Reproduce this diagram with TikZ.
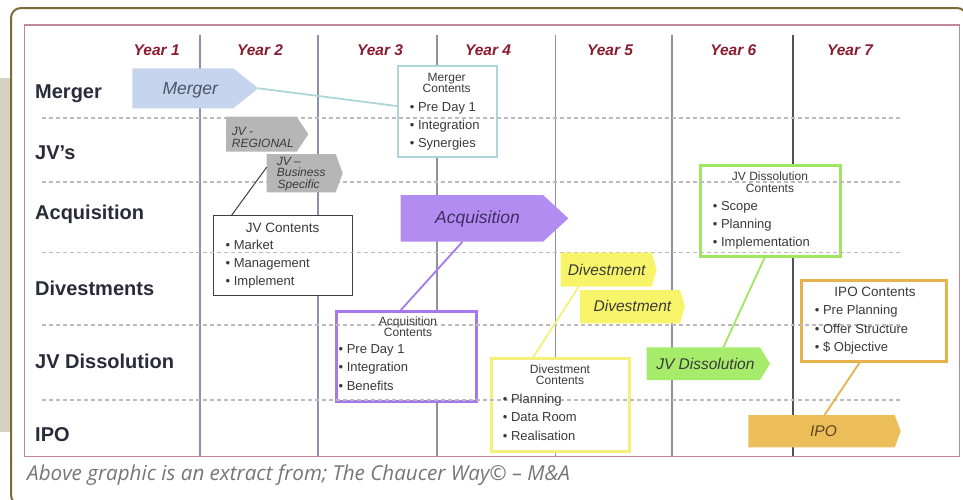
\documentclass[tikz,border=0pt]{standalone}
\usepackage{fontspec}
\setmainfont{Liberation Sans}
\newfontfamily\capfont{Open Sans}

\definecolor{framebrown}{HTML}{7B6A3C}
\definecolor{beige}{HTML}{D8D0C0}
\definecolor{framepink}{HTML}{C08898}
\definecolor{gridblue}{HTML}{8C90A8}
\definecolor{griddark}{HTML}{505060}
\definecolor{dashgray}{HTML}{BBBBBB}
\definecolor{yearred}{HTML}{8A1C30}
\definecolor{rowink}{HTML}{2A2A3A}
\definecolor{textgray}{HTML}{3A3A3A}
\definecolor{capgray}{HTML}{767676}
\definecolor{mergerfill}{HTML}{C5D5EE}
\definecolor{mergerink}{HTML}{4D5566}
\definecolor{mergeredge}{HTML}{AED6DA}
\definecolor{jvfill}{HTML}{B6B6B6}
\definecolor{jvedge}{HTML}{404040}
\definecolor{acqfill}{HTML}{B38CF2}
\definecolor{acqink}{HTML}{3E2E5E}
\definecolor{acqedge}{HTML}{A678EC}
\definecolor{divfill}{HTML}{F8F46A}
\definecolor{divedge}{HTML}{F4F07A}
\definecolor{jvdfill}{HTML}{A6EC6A}
\definecolor{jvdedge}{HTML}{A0E662}
\definecolor{ipofill}{HTML}{ECBE5A}
\definecolor{ipoink}{HTML}{5A4520}
\definecolor{ipoedge}{HTML}{E6B24E}

% pentagon "tag" drawn inside the bounding rectangle of a named node
\newcommand\tagshape[3]{\fill[#1] (#2.north west) -- ([xshift=-#3pt]#2.north east) -- (#2.east) -- ([xshift=-#3pt]#2.south east) -- (#2.south west) -- cycle;}

\begin{document}
\begin{tikzpicture}[x=1pt,y=-1pt,
  rowlab/.style={anchor=base west, inner sep=0, font=\fontsize{20}{22}\selectfont\bfseries, text=rowink},
  yearlab/.style={anchor=base, inner sep=0, font=\fontsize{15.5}{17}\selectfont\bfseries\itshape, text=yearred},
  gridline/.style={draw=gridblue, line width=1.4},
  rowsep/.style={draw=dashgray, line width=1.5, dash pattern=on 4pt off 3pt},
  tagbox/.style={anchor=north west, inner sep=0, outer sep=0},
  cbox/.style={anchor=north west, inner sep=0, outer sep=0, fill=white},
  tagtext/.style={anchor=base, inner sep=0, font=\fontsize{17.5}{19}\selectfont\itshape},
  tagsmall/.style={anchor=base, inner sep=0, font=\fontsize{15.5}{17}\selectfont\itshape},
  jvtext/.style={anchor=base west, inner sep=0, font=\fontsize{12}{13}\selectfont\itshape, text=textgray},
  ctitle/.style={anchor=base, inner sep=0, font=\fontsize{12}{13}\selectfont, text=textgray},
  ctitlebig/.style={anchor=base, inner sep=0, font=\fontsize{13.5}{15}\selectfont, text=textgray},
  item/.style={anchor=base west, inner sep=0, font=\fontsize{13}{15}\selectfont, text=textgray},
  link/.style={line width=1.8}
]
\useasboundingbox (0,0) rectangle (963,499);

% page furniture
\fill[beige] (0,78) rectangle (12,432);
\draw[framebrown, line width=2, fill=white, rounded corners=10pt] (11,8) rectangle (967,505);
\draw[framepink, line width=1.5] (24.5,25) rectangle (959.5,456.5);

% year columns
\foreach \gx in {200,318,437,555.5,672} \draw[gridline] (\gx,35) -- (\gx,456);
\draw[draw=griddark, line width=1.1] (793,35) -- (793,456);

\node[yearlab] (y1) at (156.7,55.5) {Year 1};
\node[yearlab] (y2) at (260,55.5) {Year 2};
\node[yearlab] (y3) at (380,55.5) {Year 3};
\node[yearlab] (y4) at (488,55.5) {Year 4};
\node[yearlab] (y5) at (610,55.5) {Year 5};
\node[yearlab] (y6) at (733.3,55.5) {Year 6};
\node[yearlab] (y7) at (850,55.5) {Year 7};

% row labels
\node[rowlab] (rmerger) at (35,98) {Merger};
\node[rowlab] (rjv) at (35,159) {JV's};
\node[rowlab] (racq) at (35,219) {Acquisition};
\node[rowlab] (rdiv) at (35,295) {Divestments};
\node[rowlab] (rjvd) at (35,368) {JV Dissolution};
\node[rowlab] (ripo) at (35,441.5) {IPO};

% content boxes
\node[cbox, draw=mergeredge, line width=2, minimum width=99pt, minimum height=91pt] (mbox) at (398.3,65.7) {};
\node[cbox, draw=jvedge, line width=1.5, minimum width=139pt, minimum height=80pt] (jvbox) at (213.3,215.7) {};
\node[cbox, draw=acqedge, line width=3, minimum width=140pt, minimum height=90.7pt] (acqbox) at (336,311) {};
\node[cbox, draw=divedge, line width=3, minimum width=137.6pt, minimum height=92.7pt] (divbox) at (491.7,358.3) {};
\node[cbox, draw=jvdedge, line width=3, minimum width=140.7pt, minimum height=90.3pt] (jvdbox) at (700,165.7) {};
\node[cbox, draw=ipoedge, line width=3, minimum width=145pt, minimum height=81pt] (ipobox) at (801.7,280.7) {};

% row separators
\foreach \gy in {118,182,252.5,325,400} \draw[rowsep] (42,\gy) -- (900,\gy);

% tags
\node[tagbox, minimum width=126pt, minimum height=40pt] (mtag) at (132.3,68.3) {};
\node[tagbox, minimum width=82.3pt, minimum height=35pt] (jvreg) at (226,116.7) {};
\node[tagbox, minimum width=76pt, minimum height=38.3pt] (jvbs) at (266.7,154) {};
\node[tagbox, minimum width=167.6pt, minimum height=46.7pt] (acqtag) at (400.7,195) {};
\node[tagbox, minimum width=96pt, minimum height=34pt] (div1) at (560.7,252.7) {};
\node[tagbox, minimum width=105pt, minimum height=33.3pt] (div2) at (580,290) {};
\node[tagbox, minimum width=123.3pt, minimum height=32.7pt] (jvdtag) at (646.7,347.3) {};
\node[tagbox, minimum width=152.4pt, minimum height=32.3pt] (ipotag) at (748.3,415) {};

\tagshape{mergerfill}{mtag}{25}
\tagshape{jvfill}{jvreg}{11.6}
\tagshape{jvfill}{jvbs}{7}
\tagshape{acqfill}{acqtag}{25.3}
\tagshape{divfill}{div1}{5}
\tagshape{divfill}{div2}{5}
\tagshape{jvdfill}{jvdtag}{10}
\tagshape{ipofill}{ipotag}{6}

\node[tagtext, text=mergerink] (mtagt) at ([xshift=-5pt,yshift=-6pt]mtag.center) {Merger};
\node[tagtext, text=acqink] (acqtagt) at ([xshift=-7pt,yshift=-5.5pt]acqtag.center) {Acquisition};
\node[tagsmall, text=textgray] (div1t) at ([xshift=-2pt,yshift=-5.3pt]div1.center) {Divestment};
\node[tagsmall, text=textgray] (div2t) at ([yshift=-5pt]div2.center) {Divestment};
\node[tagsmall, text=textgray] (jvdtagt) at ([xshift=-3pt,yshift=-5.5pt]jvdtag.center) {JV Dissolution};
\node[tagsmall, text=ipoink] (ipotagt) at ([xshift=-1pt,yshift=-5.5pt]ipotag.center) {IPO};

\node[jvtext] (jvreg1) at (231.7,135.3) {JV -};
\node[jvtext] (jvreg2) at (231.7,147.3) {REGIONAL};
\node[jvtext] (jvbs1) at (276.7,165) {JV –};
\node[jvtext] (jvbs2) at (276.7,176.7) {Business};
\node[jvtext] (jvbs3) at (277.5,188.3) {Specific};

% connectors
\draw[link, draw=mergeredge] (mtag.east) -- ([yshift=5pt]mbox.west);
\draw[line width=1, draw=jvedge] ([xshift=18pt]jvbox.north west) -- ([yshift=6pt]jvbs.west);
\draw[link, draw=acqedge] ([xshift=-6pt]acqbox.north) -- ([xshift=-22pt]acqtag.south);
\draw[link, draw=divedge] ([xshift=-28pt]divbox.north) -- ([xshift=-30pt]div1.south);
\draw[link, draw=jvdedge] ([xshift=15pt]jvdtag.north) -- ([xshift=-5pt]jvdbox.south);
\draw[link, draw=ipoedge] (ipotag.north) -- ([xshift=-14pt]ipobox.south);

% box contents
\node[ctitle] (mt1) at (446.7,81.7) {Merger};
\node[ctitle] (mt2) at (446.7,92) {Contents};
\node[item] (mi1) at (409.7,111) {• Pre Day 1};
\node[item] (mi2) at (409.7,129) {• Integration};
\node[item] (mi3) at (409.7,147) {• Synergies};

\node[ctitlebig] (jt1) at (282.7,232.3) {JV Contents};
\node[item] (ji1) at (225.5,249.3) {• Market};
\node[item] (ji2) at (225.5,267) {• Management};
\node[item] (ji3) at (225.5,285) {• Implement};

\node[ctitle] (at1) at (408,325) {Acquisition};
\node[ctitle] (at2) at (408,336) {Contents};
\node[item] (ai1) at (338.4,353) {• Pre Day 1};
\node[item] (ai2) at (338.4,371.7) {• Integration};
\node[item] (ai3) at (338.4,390.5) {• Benefits};

\node[ctitle] (dt1) at (560,373.3) {Divestment};
\node[ctitle] (dt2) at (560,384.3) {Contents};
\node[item] (di1) at (502.7,403.3) {• Planning};
\node[item] (di2) at (502.7,421.7) {• Data Room};
\node[item] (di3) at (502.7,440.5) {• Realisation};

\node[ctitle] (vt1) at (770,180.5) {JV Dissolution};
\node[ctitle] (vt2) at (770,192.5) {Contents};
\node[item] (vi1) at (712.7,210) {• Scope};
\node[item] (vi2) at (712.7,228.3) {• Planning};
\node[item] (vi3) at (712.7,246.7) {• Implementation};

\node[ctitlebig] (it1) at (875,296) {IPO Contents};
\node[item] (ii1) at (814.7,314) {• Pre Planning};
\node[item] (ii2) at (814.7,333.3) {• Offer Structure};
\node[item] (ii3) at (814.7,351.7) {• \$ Objective};

% caption
\node[anchor=base west, inner sep=0, font=\capfont\itshape\fontsize{20.6}{22}\selectfont, text=capgray] (cap) at (27,480.5) {Above graphic is an extract from; The Chaucer Way© – M\&A};
\end{tikzpicture}
\end{document}
